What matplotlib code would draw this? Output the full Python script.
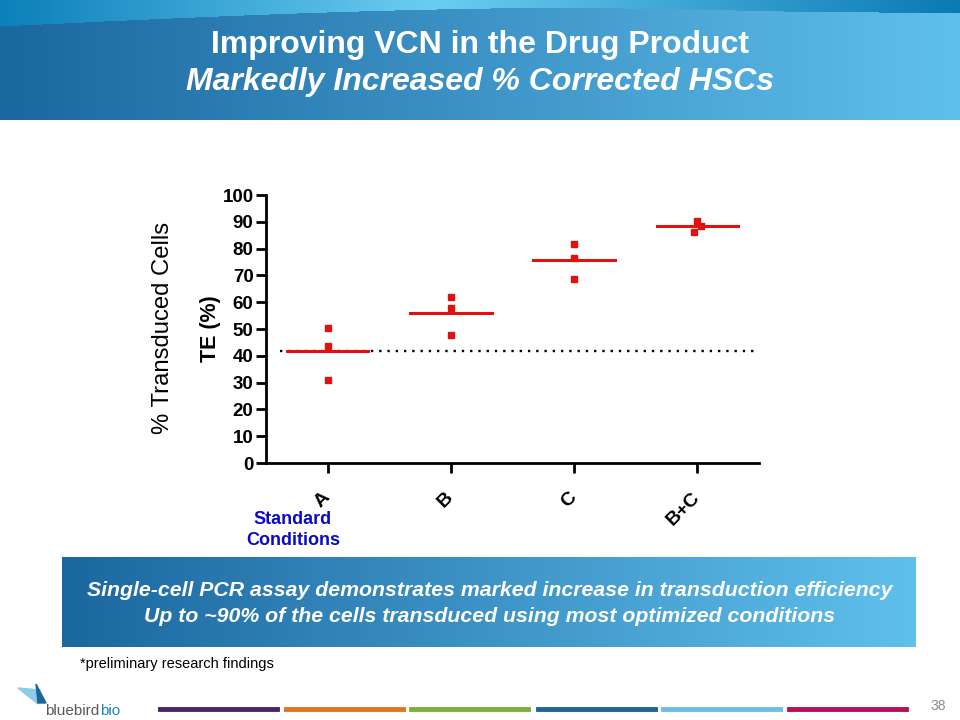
import numpy as np
import matplotlib.pyplot as plt
from matplotlib.patches import Polygon

plt.rcParams['font.family'] = ['Liberation Sans', 'DejaVu Sans']

# data
categories = ['A', 'B', 'C', 'B+C']
te_values = [
    [50.5, 43.6, 31.0],
    [61.9, 58.0, 47.9],
    [81.9, 76.5, 68.7],
    [90.3, 88.4, 86.3],
]
x_jitter = [
    [0, 0, 0],
    [0, 0, 0],
    [0, 0, 0],
    [0, 0.03, -0.03],
]
te_means = [41.7, 55.9, 75.8, 88.3]
baseline = 41.7
yticks = list(range(0, 101, 10))

fig = plt.figure(figsize=(9.6, 7.2), dpi=100)

# header band with gradient
hdr = fig.add_axes([0, 1 - 120 / 720, 1, 120 / 720])
hdr.set_axis_off()
H, W = 120, 960
xx = np.linspace(0, 1, W)
low = np.array([0x1b, 0x67, 0xa0]) / 255
high = np.array([0x60, 0xc0, 0xec]) / 255
img = np.zeros((H, W, 3))
img[:] = low + (high - low) * xx[None, :, None]
# lighter arc across the top of the band
arc = 27 - 19 * np.sin(np.clip(xx / 0.8, 0, 1) * np.pi * 0.62) + 10 * np.clip(xx - 0.55, 0, 1)
top_l = np.array([0x0c, 0x80, 0xba]) / 255
top_m = np.array([0x6c, 0xcd, 0xf2]) / 255
top_r = np.array([0x0a, 0x7a, 0xb4]) / 255
for j in range(W):
    t = xx[j]
    if t < 0.45:
        c = top_l + (top_m - top_l) * (t / 0.45)
    else:
        c = top_m + (top_r - top_m) * ((t - 0.45) / 0.55)
    img[: int(arc[j]), j] = c
hdr.imshow(img, aspect='auto', extent=(0, 1, 0, 1))
hdr.set_xlim(0, 1); hdr.set_ylim(0, 1)

fig.text(0.5, 1 - 45 / 720, 'Improving VCN in the Drug Product', ha='center', va='center',
         color='white', fontsize=23, fontweight='bold')
fig.text(0.5, 1 - 82 / 720, 'Markedly Increased % Corrected HSCs', ha='center', va='center',
         color='white', fontsize=23, fontweight='bold', style='italic')

# bottom message box
box = fig.add_axes([62 / 960, 1 - 647 / 720, (916 - 62) / 960, 90 / 720])
box.set_axis_off()
bimg = np.zeros((10, 400, 3))
bx = np.linspace(0, 1, 400)
bimg[:] = low + (high - low) * bx[None, :, None]
box.imshow(bimg, aspect='auto', extent=(0, 1, 0, 1))
box.set_xlim(0, 1); box.set_ylim(0, 1)
fig.text(490 / 960, 1 - 591 / 720,
         'Single-cell PCR assay demonstrates marked increase in transduction efficiency',
         ha='center', va='center', color='white', fontsize=15.3, fontweight='bold', style='italic')
fig.text(490 / 960, 1 - 616 / 720,
         'Up to ~90% of the cells transduced using most optimized conditions',
         ha='center', va='center', color='white', fontsize=15.3, fontweight='bold', style='italic')

# main chart
ax = fig.add_axes([266 / 960, 1 - 463 / 720, (759 - 266) / 960, (463 - 195) / 720])
xpos = np.arange(len(categories))
ax.plot([-0.39, 3.47], [baseline, baseline], color='black', lw=1.7,
        linestyle=(0, (1, 2.5)), zorder=1)
for i, vals in enumerate(te_values):
    ax.plot(xpos[i] + np.array(x_jitter[i]), vals, 's', color='#e31010', ms=5,
            mec='#e31010', zorder=3)
    ax.plot([xpos[i] - 0.33, xpos[i] + 0.33], [te_means[i], te_means[i]],
            color='#e31010', lw=2.2, zorder=2)

ax.set_xlim(-0.5, 3.5)
ax.set_ylim(0, 100)
ax.set_yticks(yticks)
ax.set_yticklabels([str(v) for v in yticks], fontsize=13.5, fontweight='bold')
ax.set_xticks(xpos)
ax.set_xticklabels(categories, fontsize=14, fontweight='bold', rotation=45,
                   ha='right', va='center', rotation_mode='anchor')
ax.spines['top'].set_visible(False)
ax.spines['right'].set_visible(False)
ax.spines['left'].set_linewidth(2)
ax.spines['bottom'].set_linewidth(2)
ax.tick_params(axis='both', width=2, length=7, pad=2)
ax.tick_params(axis='x', pad=16)
ax.set_ylabel('TE (%)', fontsize=15.5, fontweight='bold', labelpad=1)

fig.text(163 / 960, 1 - 328 / 720, '% Transduced Cells', rotation=90, ha='center',
         va='center', fontsize=17.2)
fig.text(293 / 960, 1 - 530 / 720, 'Standard\nConditions', ha='center', va='center',
         color='#0a0ac8', fontsize=13, fontweight='bold', linespacing=1.3)

# footer
fig.text(80 / 960, 1 - 664 / 720, '*preliminary research findings', ha='left',
         va='center', fontsize=10.5)
fig.text(938 / 960, 1 - 706 / 720, '38', ha='center', va='center', fontsize=10,
         color='#8c8c8c')
bar_colors = ['#4b2466', '#e8731e', '#7ab03c', '#1b6597', '#6bbfe6', '#b5115a']
bar_starts = [160, 286, 411, 538, 663, 789]
for c, s in zip(bar_colors, bar_starts):
    fig.add_artist(plt.Line2D([s / 960, (s + 117) / 960], [1 - 709 / 720] * 2,
                              color=c, lw=3.5, transform=fig.transFigure))

# logo
fig.add_artist(Polygon([[18 / 960, 1 - 688 / 720], [40 / 960, 1 - 690 / 720],
                        [38 / 960, 1 - 704 / 720]], closed=True, color='#8ccbea',
                       transform=fig.transFigure))
fig.add_artist(Polygon([[36 / 960, 1 - 684 / 720], [46 / 960, 1 - 703 / 720],
                        [38 / 960, 1 - 703 / 720]], closed=True, color='#1b6597',
                       transform=fig.transFigure))
fig.text(45 / 960, 1 - 711 / 720, 'bluebird', ha='left', va='center', fontsize=11,
         color='#5a5a5a')
fig.text(100 / 960, 1 - 711 / 720, 'bio', ha='left', va='center', fontsize=11,
         color='#1b84c0')

fig.savefig('out.png', dpi=100)
